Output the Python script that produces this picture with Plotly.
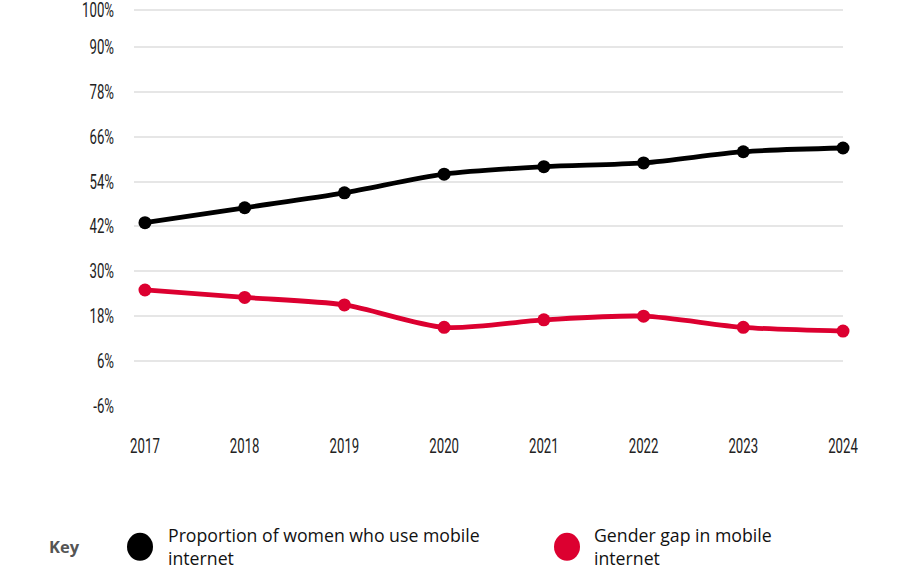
import plotly.graph_objects as go

years = [2017, 2018, 2019, 2020, 2021, 2022, 2023, 2024]
women_mobile = [43, 47, 51, 56, 58, 59, 62, 63]
gender_gap = [25, 23, 21, 15, 17, 18, 15, 14]
y_ticks = [-6, 6, 18, 30, 42, 54, 66, 78, 90, 100]
y_tick_text = [f"{v}%" for v in y_ticks]
year_labels = [str(y) for y in years]
names = ["Proportion of women who use mobile<br>internet", "Gender gap in mobile<br>internet"]
colors = ["#000000", "#dc0030"]

W, H = 903, 581
# -6% gridline at y=406, 100% gridline at y=10
y_lo, y_hi = -6.05, 101.0
scale = 396 / 106.0
L, R = 134, 60
T = 10 - (y_hi - 100) * scale
B = H - 406 - (-6 - y_lo) * scale
pw, ph = W - L - R, H - T - B

def px(x):
    return (x - L) / pw

def py(y):
    return (H - B - y) / ph

fig = go.Figure()
for vals, col in [(women_mobile, colors[0]), (gender_gap, colors[1])]:
    fig.add_trace(go.Scatter(
        x=years, y=vals, mode="lines+markers",
        line=dict(color=col, width=4.8, shape="spline", smoothing=0.8),
        marker=dict(color=col, size=13),
        cliponaxis=False, showlegend=False, hoverinfo="skip"))

tick_font = dict(family="Roboto, sans-serif", size=20, color="#222222")
fig.update_layout(
    width=W, height=H, margin=dict(l=L, r=R, t=T, b=B, autoexpand=False),
    paper_bgcolor="white", plot_bgcolor="white", showlegend=False,
    xaxis=dict(range=[2016.89, 2024], tickmode="array", tickvals=years, ticktext=year_labels,
               showgrid=False, zeroline=False, automargin=False, ticklabeloverflow="allow",
               showline=False, ticks="", tickfont=tick_font, ticklabelstandoff=26),
    yaxis=dict(range=[y_lo, y_hi], tickmode="array", tickvals=y_ticks, ticktext=y_tick_text,
               showgrid=True, automargin=False, ticklabeloverflow="allow",
               gridcolor="#e6e6e6", gridwidth=1.5, zeroline=False, showline=False,
               ticks="", tickfont=tick_font, ticklabelstandoff=19),
)

legend_font = dict(family="Open Sans, sans-serif", size=17.7, color="#111111")
fig.add_annotation(text="<b>Key</b>", x=px(64), y=py(547), xref="paper", yref="paper",
                   showarrow=False, xanchor="center", yanchor="middle",
                   font=dict(family="Open Sans, sans-serif", size=16.5, color="#555555"))
for cx, tx, name, col in [(140, 166, names[0], colors[0]), (567, 592, names[1], colors[1])]:
    fig.add_shape(type="circle", xref="paper", yref="paper",
                  x0=px(cx - 13), x1=px(cx + 13), y0=py(547 + 14), y1=py(547 - 14),
                  fillcolor=col, line=dict(width=0))
    fig.add_annotation(text=name, x=px(tx), y=py(547), xref="paper", yref="paper",
                       showarrow=False, xanchor="left", yanchor="middle", align="left",
                       font=legend_font)

# page without body margin; condensed look for tick labels as in the reference
post = """
document.body.style.margin = '0';
document.querySelectorAll('.xtick text, .ytick text').forEach(function (t) {
    var w = t.getComputedTextLength();
    t.setAttribute('textLength', (w * 0.66).toFixed(1));
    t.setAttribute('lengthAdjust', 'spacingAndGlyphs');
});
"""
fig.write_html("out.html", post_script=post, config={"displayModeBar": False})
